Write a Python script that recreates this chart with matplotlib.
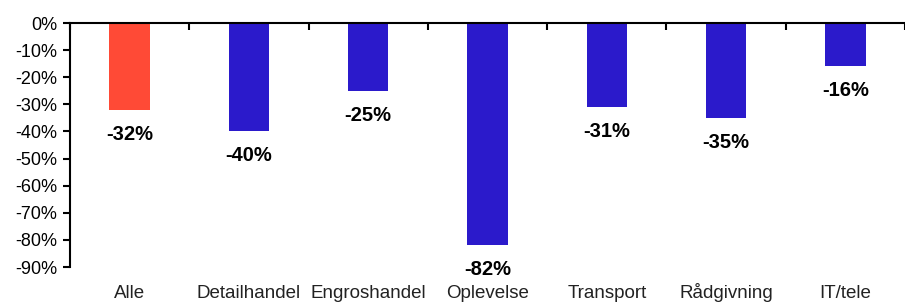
import numpy as np
import matplotlib
matplotlib.use('Agg')
import matplotlib.pyplot as plt
import matplotlib.transforms as mtransforms

# Data
kategorier = ['Alle', 'Detailhandel', 'Engroshandel', 'Oplevelse', 'Transport', 'Rådgivning', 'IT/tele']
vaerdier = [-32, -40, -25, -82, -31, -35, -16]
farver = ['#FF4A36', '#2B1ACB', '#2B1ACB', '#2B1ACB', '#2B1ACB', '#2B1ACB', '#2B1ACB']
y_ticks = list(range(0, -100, -10))

plt.rcParams['font.family'] = ['Liberation Sans', 'DejaVu Sans']
plt.rcParams['font.size'] = 13

fig = plt.figure(figsize=(9.05, 3.02), dpi=100)
ax = fig.add_axes([70 / 905, 1 - 267 / 302, 835 / 905, 244 / 302])

x = np.arange(len(kategorier))
ax.bar(x, vaerdier, width=0.34, color=farver)

# Vaerdi-labels under hver soejle
for xi, v in zip(x, vaerdier):
    ax.annotate(f'{v}%', (xi, v), xytext=(0, -17.5), textcoords='offset points',
                ha='center', va='center', fontweight='bold', fontsize=14.5)

ax.set_ylim(-90, 0)
ax.set_yticks(y_ticks)
ax.set_yticklabels([f'{t}%' for t in y_ticks])
ax.set_xlim(-0.5, -0.5 + 835 / 120.3)

# Skillestreger langs toppen
ax.set_xticks(np.arange(len(kategorier) + 1) - 0.5)
ax.tick_params(axis='x', which='major', top=True, bottom=False, direction='in',
               length=5, width=1.5, labelbottom=False, labeltop=False)
ax.tick_params(axis='y', length=5, width=1.5, pad=4, labelsize=13)

# Kategorinavne i bunden
trans = mtransforms.blended_transform_factory(ax.transData, ax.transAxes)
for xi, navn in zip(x, kategorier):
    ax.text(xi, -30.5 / 244, navn, transform=trans, ha='center', va='baseline',
            fontsize=13.5, color='#222222', clip_on=False)

for s in ['right', 'bottom']:
    ax.spines[s].set_visible(False)
ax.spines['top'].set_linewidth(1.5)
ax.spines['left'].set_linewidth(1.5)

plt.savefig('out.png', dpi=100)
